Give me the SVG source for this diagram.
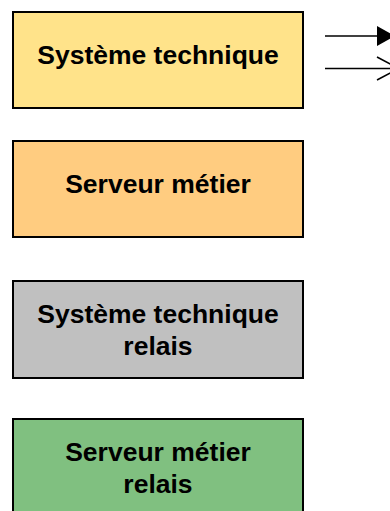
<svg xmlns="http://www.w3.org/2000/svg" width="390" height="511" viewBox="0 0 390 511">
<style>
.box{stroke:#000;stroke-width:2}
.t{font-family:"Liberation Sans",Arial,sans-serif;font-weight:bold;font-size:26.5px;fill:#000;text-anchor:middle}
.c{stroke:#000;stroke-width:1.6;fill:none}
</style>
<rect width="390" height="511" fill="#fff"/>
<g id="systeme-technique">
<rect class="box" x="13" y="12" width="290" height="96" fill="#FFE38A"/>
<text class="t" x="158" y="64">Système technique</text>
</g>
<g id="serveur-metier">
<rect class="box" x="13" y="141" width="290" height="96" fill="#FFCC80"/>
<text class="t" x="158" y="193">Serveur métier</text>
</g>
<g id="systeme-technique-relais">
<rect class="box" x="13" y="281" width="290" height="97" fill="#C0C0C0"/>
<text class="t" x="158" y="323">Système technique</text>
<text class="t" x="158" y="355">relais</text>
</g>
<g id="serveur-metier-relais">
<rect class="box" x="13" y="419" width="290" height="100" fill="#80C080"/>
<text class="t" x="158" y="461">Serveur métier</text>
<text class="t" x="158" y="493">relais</text>
</g>
<g id="connectors">
<line class="c" x1="325" y1="36" x2="380" y2="36"/>
<polygon points="377,26 395,36 377,46" fill="#000"/>
<line class="c" x1="325" y1="68.5" x2="390" y2="68.5"/>
<polyline class="c" points="377,57 399,68.5 377,80"/>
</g>
</svg>
